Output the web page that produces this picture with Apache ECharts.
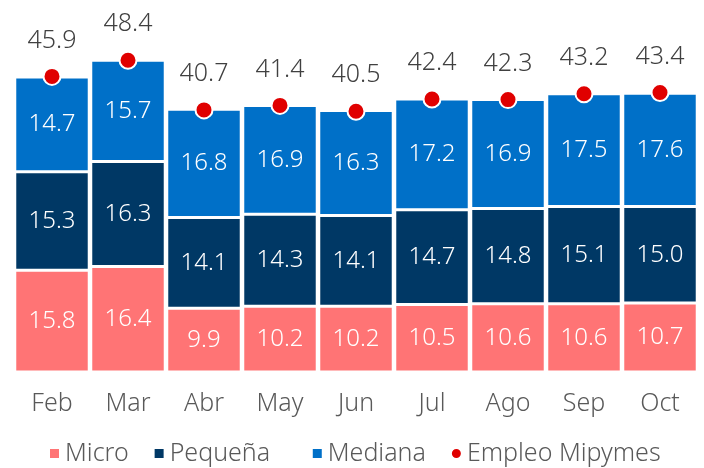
<!DOCTYPE html>
<html><head><meta charset="utf-8">
<script src="https://cdn.jsdelivr.net/npm/echarts@6/dist/echarts.min.js"></script>
<style>html,body{margin:0;padding:0;background:#fff}#c{width:704px;height:468px}</style>
</head><body><div id="c"></div>
<script>
var categories = ['Feb','Mar','Abr','May','Jun','Jul','Ago','Sep','Oct'];
var micro = [15.8,16.4,9.9,10.2,10.2,10.5,10.6,10.6,10.7];
var pequena = [15.3,16.3,14.1,14.3,14.1,14.7,14.8,15.1,15.0];
var mediana = [14.7,15.7,16.8,16.9,16.3,17.2,16.9,17.5,17.6];
var total = [45.9,48.4,40.7,41.4,40.5,42.4,42.3,43.2,43.4];
var seriesNames = ['Micro','Pequeña','Mediana','Empleo Mipymes'];

var FONT = '"Noto Sans", sans-serif';
var W = 300;
function fmt(p){ return p.value.toFixed(1); }
function barSeries(name, data, color){
  return {
    name: name, type: 'bar', stack: 'a', data: data,
    barCategoryGap: '2%',
    itemStyle: {color: color, borderColor: '#fff', borderWidth: 1.5},
    label: {show: true, position: 'inside', color: '#fff', fontSize: 24, fontWeight: W, fontFamily: FONT, formatter: fmt}
  };
}

var chart = echarts.init(document.getElementById('c'));
chart.setOption({
  animation: false,
  textStyle: {fontFamily: FONT},
  grid: {left: 14, right: 6, top: 50, bottom: 96, containLabel: false},
  xAxis: {type: 'category', data: categories,
    axisLine: {show: false}, axisTick: {show: false},
    axisLabel: {color: '#595959', fontSize: 25, fontWeight: W, margin: 19, fontFamily: FONT}},
  yAxis: {type: 'value', min: 0, max: 50, show: false, splitLine: {show: false}},
  legend: {top: 441, left: 48, itemWidth: 11, itemHeight: 11, itemGap: 24, padding: 0,
    formatter: function(name){ return name === 'Pequeña' ? name + '\u2002\u2009' : name; },
    textStyle: {color: '#595959', fontSize: 25, fontWeight: W, fontFamily: FONT},
    data: [
      {name: seriesNames[0], icon: 'rect'},
      {name: seriesNames[1], icon: 'rect'},
      {name: seriesNames[2], icon: 'rect'},
      {name: seriesNames[3], icon: 'circle'}
    ]},
  series: [
    barSeries(seriesNames[0], micro, '#FF7475'),
    barSeries(seriesNames[1], pequena, '#003865'),
    barSeries(seriesNames[2], mediana, '#0070C8'),
    {name: seriesNames[3], type: 'scatter', data: total, symbolSize: 17, z: 5,
      itemStyle: {color: '#E00000', borderColor: '#fff', borderWidth: 2, opacity: 1},
      label: {show: true, position: 'top', distance: 14, color: '#404040', fontSize: 25, fontWeight: W, fontFamily: FONT, formatter: fmt}}
  ]
});
</script></body></html>
